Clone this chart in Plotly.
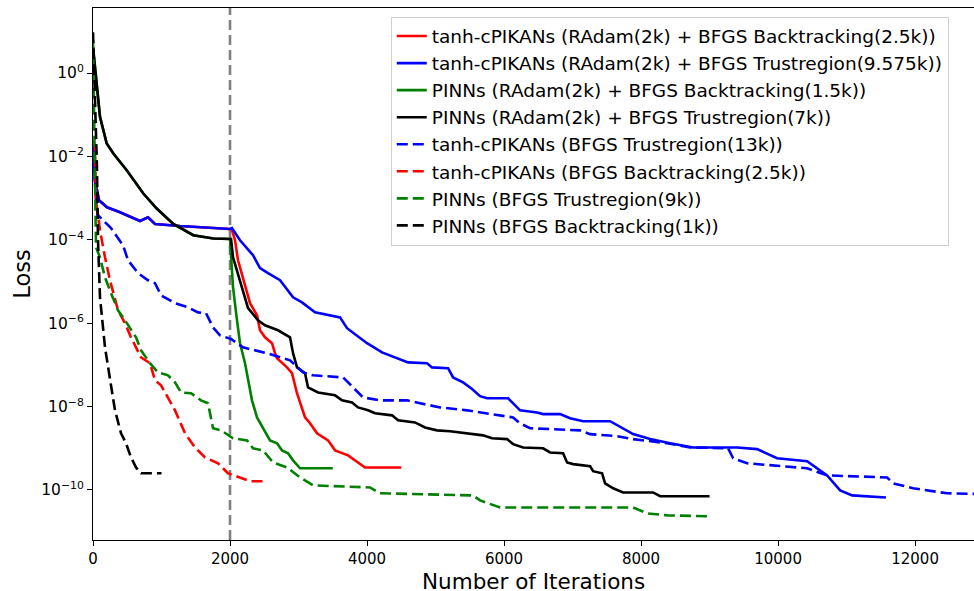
import plotly.graph_objects as go

# ---- data (iterations, log10(loss)) ----
# RAdam phase shared by tanh-cPIKANs hybrid runs
tanh_radam_it = [0, 29, 88, 204, 394, 686, 803, 905, 1270, 2000]
tanh_radam_lg = [-1.73, -2.57, -3.05, -3.22, -3.34, -3.55, -3.46, -3.62, -3.67, -3.74]
# RAdam phase shared by PINNs hybrid runs
pinn_radam_it = [0, 54, 102, 200, 297, 492, 735, 930, 1172, 1464, 1757, 2000]
pinn_radam_lg = [0.62, -0.25, -1.05, -1.69, -1.93, -2.33, -2.89, -3.25, -3.62, -3.89, -3.97, -3.98]

# tanh-cPIKANs RAdam(2k) + BFGS Backtracking(2.5k), after 2000
red_solid_it = [2029, 2073, 2117, 2190, 2292, 2394, 2438, 2511, 2613, 2657, 2686, 2832, 2905,
                2978, 3095, 3168, 3270, 3431, 3533, 3723, 3825, 3971, 4500]
red_solid_lg = [-3.77, -4.01, -4.49, -4.90, -5.52, -5.81, -6.17, -6.34, -6.48, -6.72, -6.84, -7.06, -7.20,
                -7.68, -8.26, -8.40, -8.64, -8.81, -9.05, -9.17, -9.29, -9.46, -9.46]

# tanh-cPIKANs RAdam(2k) + BFGS Trustregion(9.575k), after 2000
blue_solid_it = [2029, 2146, 2336, 2438, 2555, 2730, 2920, 3051, 3241, 3606, 3708, 4000, 4219, 4409,
                 4599, 4876, 4949, 5183, 5256, 5402, 5533, 5650, 5752, 6059, 6234, 6482, 6570, 6818,
                 6964, 7154, 7548, 7884, 8132, 8424, 8760, 9402, 9694, 9986, 10424, 10716, 10906,
                 11081, 11575]
blue_solid_lg = [-3.72, -4.01, -4.37, -4.68, -4.80, -4.97, -5.38, -5.50, -5.74, -5.86, -6.12, -6.48, -6.70, -6.82,
                 -6.94, -6.96, -7.06, -7.08, -7.30, -7.42, -7.58, -7.75, -7.80, -7.80, -8.09, -8.14, -8.18, -8.18,
                 -8.28, -8.35, -8.35, -8.66, -8.78, -8.88, -8.98, -8.98, -9.02, -9.24, -9.31, -9.65, -10.01,
                 -10.13, -10.18]

# PINNs RAdam(2k) + BFGS Backtracking(1.5k), after 2000
green_solid_it = [2044, 2102, 2146, 2219, 2263, 2321, 2394, 2482, 2584, 2686, 2759, 2847, 2920, 3022, 3500]
green_solid_lg = [-5.14, -5.93, -6.48, -6.96, -7.37, -7.85, -8.26, -8.50, -8.81, -8.88, -9.05, -9.12, -9.29,
                  -9.48, -9.48]

# PINNs RAdam(2k) + BFGS Trustregion(7k), after 2000
black_solid_it = [2015, 2044, 2146, 2263, 2409, 2511, 2701, 2876, 2920, 2978, 3095, 3139, 3285, 3533, 3635,
                  3781, 3869, 4015, 4117, 4365, 4453, 4701, 4847, 5022, 5212, 5460, 5694, 5825, 6044, 6132,
                  6278, 6570, 6672, 6862, 6920, 7008, 7256, 7300, 7431, 7475, 7592, 7738, 8176, 8278, 9000]
black_solid_lg = [-3.98, -4.42, -4.97, -5.64, -5.93, -6.05, -6.17, -6.34, -6.72, -7.06, -7.20, -7.54, -7.66,
                  -7.73, -7.85, -7.90, -8.02, -8.09, -8.16, -8.21, -8.33, -8.38, -8.50, -8.57, -8.59, -8.64,
                  -8.69, -8.76, -8.78, -8.90, -8.98, -9.00, -9.10, -9.12, -9.34, -9.38, -9.43, -9.55, -9.60,
                  -9.84, -9.96, -10.06, -10.06, -10.15, -10.15]

# tanh-cPIKANs BFGS Trustregion(13k)
blue_dash_it = [0, 44, 73, 263, 438, 511, 657, 803, 905, 993, 1197, 1387, 1533, 1650, 1752, 1854, 2015,
                2190, 2540, 2876, 3066, 3212, 3650, 3796, 3942, 4190, 4584, 4774, 5066, 5460, 5752, 6132,
                6234, 6380, 7110, 7256, 7650, 7884, 8380, 8716, 9271, 9344, 9548, 10424, 10716, 11592,
                11680, 11972, 12468, 12848, 13000]
blue_dash_lg = [-1.73, -3.05, -3.41, -3.72, -4.13, -4.49, -4.80, -4.97, -5.04, -5.33, -5.52, -5.62, -5.74,
                -5.76, -6.10, -6.29, -6.38, -6.58, -6.72, -6.89, -7.18, -7.25, -7.30, -7.54, -7.78, -7.85,
                -7.85, -7.92, -8.02, -8.09, -8.16, -8.26, -8.40, -8.52, -8.57, -8.66, -8.71, -8.78, -8.88,
                -8.98, -9.00, -9.24, -9.36, -9.48, -9.65, -9.70, -9.84, -9.96, -10.08, -10.10, -10.10]

# tanh-cPIKANs BFGS Backtracking(2.5k)
red_dash_it = [0, 29, 44, 102, 175, 248, 365, 467, 555, 701, 832, 905, 993, 1095, 1197, 1343, 1489,
               1635, 1825, 1971, 2146, 2292, 2500]
red_dash_lg = [-1.61, -1.78, -3.05, -3.77, -4.42, -4.97, -5.69, -6.00, -6.34, -6.82, -6.96, -7.37, -7.49,
               -7.78, -8.09, -8.64, -8.98, -9.22, -9.36, -9.60, -9.70, -9.79, -9.79]

# PINNs BFGS Trustregion(9k)
green_dash_it = [0, 15, 29, 44, 102, 175, 263, 365, 467, 555, 628, 701, 832, 949, 1095, 1197, 1285, 1431,
                 1577, 1679, 1752, 1869, 2044, 2248, 2336, 2482, 2628, 2832, 3022, 3212, 4044, 4190, 5548,
                 5650, 5942, 7884, 8088, 8380, 9000]
green_dash_lg = [0.8, -1.13, -3.05, -4.18, -4.42, -4.90, -5.28, -5.69, -5.93, -6.17, -6.34, -6.65, -6.96,
                 -7.18, -7.25, -7.42, -7.66, -7.68, -7.85, -7.92, -8.52, -8.57, -8.76, -8.81, -9.00, -9.05,
                 -9.34, -9.46, -9.70, -9.89, -9.94, -10.08, -10.13, -10.25, -10.42, -10.42, -10.56, -10.61,
                 -10.63]

# PINNs BFGS Backtracking(1k)
black_dash_it = [0, 29, 58, 73, 102, 175, 248, 321, 409, 482, 555, 628, 701, 1000]
black_dash_lg = [0.98, -0.65, -2.26, -4.01, -5.38, -6.58, -7.37, -8.09, -8.64, -8.88, -9.22, -9.46, -9.60,
                 -9.60]

labels = [
    "tanh-cPIKANs (RAdam(2k) + BFGS Backtracking(2.5k))",
    "tanh-cPIKANs (RAdam(2k) + BFGS Trustregion(9.575k))",
    "PINNs (RAdam(2k) + BFGS Backtracking(1.5k))",
    "PINNs (RAdam(2k) + BFGS Trustregion(7k))",
    "tanh-cPIKANs (BFGS Trustregion(13k))",
    "tanh-cPIKANs (BFGS Backtracking(2.5k))",
    "PINNs (BFGS Trustregion(9k))",
    "PINNs (BFGS Backtracking(1k))",
]
switch_iter = 2000
ytick_exp = [0, -2, -4, -6, -8, -10]
xtick_vals = [0, 2000, 4000, 6000, 8000, 10000, 12000]

series = [
    (tanh_radam_it + red_solid_it, tanh_radam_lg + red_solid_lg, "red", "solid"),
    (tanh_radam_it + blue_solid_it, tanh_radam_lg + blue_solid_lg, "blue", "solid"),
    (pinn_radam_it + green_solid_it, pinn_radam_lg + green_solid_lg, "green", "solid"),
    (pinn_radam_it + black_solid_it, pinn_radam_lg + black_solid_lg, "black", "solid"),
    (blue_dash_it, blue_dash_lg, "blue", "11px,5px"),
    (red_dash_it, red_dash_lg, "red", "11px,5px"),
    (green_dash_it, green_dash_lg, "green", "11px,5px"),
    (black_dash_it, black_dash_lg, "black", "11px,5px"),
]

fig = go.Figure()
for (xs, lg, col, dash), name in zip(series, labels):
    fig.add_trace(go.Scatter(
        x=xs, y=[10 ** v for v in lg], mode="lines", name=name,
        line=dict(color=col, width=2.6, dash=dash),
    ))

fig.add_shape(type="line", x0=switch_iter, x1=switch_iter, xref="x", y0=0, y1=1, yref="paper",
              line=dict(color="gray", width=2.6, dash="10px,5px"), layer="below")

font_family = "DejaVu Sans"
fig.add_annotation(text="Number of Iterations", xref="paper", yref="paper", x=0.5, y=-0.078,
                   xanchor="center", yanchor="middle", showarrow=False,
                   font=dict(size=21.5, family=font_family, color="black"))

fig.update_layout(
    width=974, height=591,
    margin=dict(l=93, r=0, t=8, b=51),
    plot_bgcolor="white", paper_bgcolor="white",
    font=dict(family=font_family, color="black"),
    legend=dict(
        x=0.338, y=0.984, xanchor="left", yanchor="top",
        font=dict(size=18.5, family=font_family),
        bgcolor="rgba(255,255,255,0.85)", bordercolor="#d0d0d0", borderwidth=1,
        tracegroupgap=0,
    ),
    xaxis=dict(
        range=[0, 12860], tickvals=xtick_vals, ticktext=[str(v) for v in xtick_vals],
        showgrid=False, zeroline=False, showline=True, linecolor="black", linewidth=1.2,
        mirror=True, ticks="outside", ticklen=5, tickcolor="black", automargin=False,
        tickfont=dict(size=15),
    ),
    yaxis=dict(
        type="log", range=[-11.2, 1.56],
        tickvals=[10 ** e for e in ytick_exp],
        ticktext=["10<sup>%s</sup>" % (str(e).replace("-", "\u2212")) for e in ytick_exp],
        showgrid=False, zeroline=False, showline=True, linecolor="black", linewidth=1.2,
        ticks="outside", ticklen=5, tickcolor="black", automargin=False,
        tickfont=dict(size=15.5), title=dict(text="Loss", font=dict(size=22.5), standoff=4),
    ),
)

fig.write_html("out.html")
